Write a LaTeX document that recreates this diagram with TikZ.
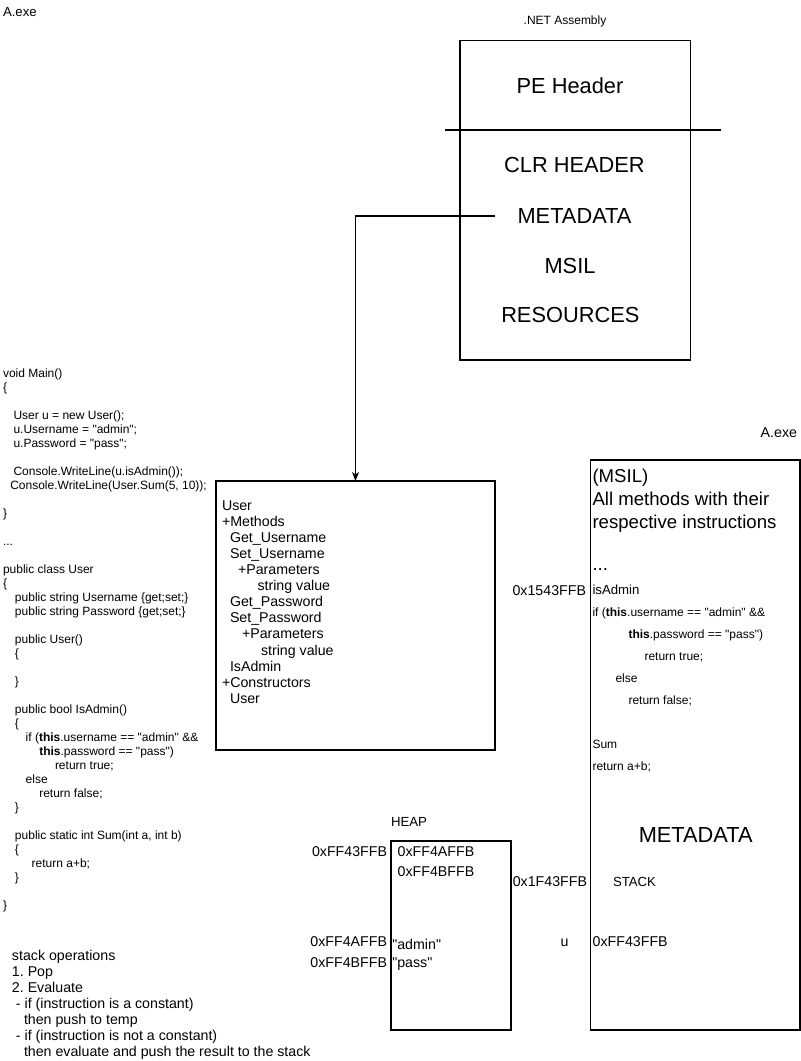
\documentclass[tikz,border=0pt]{standalone}
\usepackage{fontspec}
\setmainfont{Liberation Sans}[Ligatures=TeXOff]
\usetikzlibrary{arrows.meta}
\frenchspacing
\begin{document}
\begin{tikzpicture}[x=1pt,y=-1pt,
  lbl/.style={inner sep=0pt, outer sep=0pt, anchor=base west},
  lble/.style={inner sep=0pt, outer sep=0pt, anchor=base east},
  lblc/.style={inner sep=0pt, outer sep=0pt, anchor=base},
  f12/.style={font=\fontsize{12}{14}\selectfont},
  f13/.style={font=\fontsize{13.2}{15}\selectfont},
  f14/.style={font=\fontsize{14.2}{16}\selectfont},
  f18/.style={font=\fontsize{18.6}{22}\selectfont},
  f22/.style={font=\fontsize{21.8}{26}\selectfont},
  box/.style={draw, line width=1.1pt, inner sep=0pt, outer sep=0pt, anchor=north west},
  conn/.style={line width=1.1pt, -{Stealth[length=9pt,width=7pt,inset=2.5pt]}}
]
\useasboundingbox (0,0) rectangle (801,1061);

% top-left label
\node[lbl,f13] (aexe1) at (3,16.7) {A.exe};

% .NET assembly
\node[lblc,f12] (asmtitle) at (565,24.3) {.NET Assembly};
\node[box, minimum width=230.5pt, minimum height=319.5pt] (asm) at (460,40.5) {};
\coordinate (sepL) at (445,130);
\coordinate (sepR) at (720.5,130);
\draw[line width=1.1pt] (sepL) -- (sepR);
\node[lblc,f22] (pe)   at (570,93.8)  {PE Header};
\node[lblc,f22] (clr)  at (574.5,172.1) {CLR HEADER};
\node[lblc,f22] (meta) at (574.5,223.8) {METADATA};
\node[lblc,f22] (msilt) at (570,273.5) {MSIL};
\node[lblc,f22] (res)  at (570.3,322.1) {RESOURCES};

% class box
\node[box, minimum width=279pt, minimum height=269pt] (classbox) at (216,481) {};
\coordinate (metaend) at (495,216);
\draw[conn] (metaend) -| (classbox.north);

\foreach \k/\x/\t in {0/222/{User}, 1/222/{+Methods}, 2/230/{Get\_Username}, 3/230/{Set\_Username},
  4/238/{+Parameters}, 5/257.5/{string value}, 6/230/{Get\_Password}, 7/230/{Set\_Password},
  8/242/{+Parameters}, 9/261/{string value}, 10/230/{IsAdmin}, 11/222/{+Constructors}, 12/230/{User}}
  \node[lbl,f14] (cls\k) at (\x, 510.1+16.1*\k) {\t};

% source code
\foreach \k/\dx/\t in {0/0/{void Main()}, 1/0/{\{},
  3/10.5/{User u = new User();}, 4/10.5/{u.Username = "admin";}, 5/10.5/{u.Password = "pass";},
  7/10.5/{Console.WriteLine(u.isAdmin());}, 8/7.3/{Console.WriteLine(User.Sum(5, 10));},
  10/0/{\}}, 12/0/{...}, 14/0/{public class User}, 15/0/{\{},
  16/12/{public string Username \{get;set;\}}, 17/12/{public string Password \{get;set;\}},
  19/12/{public User()}, 20/12/{\{}, 22/12/{\}},
  24/12/{public bool IsAdmin()}, 25/12/{\{},
  26/22.7/{if (\textbf{this}.username == "admin" \&\&}, 27/36.3/{\textbf{this}.password == "pass")},
  28/52/{return true;}, 29/22.7/{else}, 30/36.3/{return false;}, 31/12/{\}},
  33/12/{public static int Sum(int a, int b)}, 34/12/{\{}, 35/28.7/{return a+b;}, 36/12/{\}},
  38/0/{\}}}
  \node[lbl,f12] (code\k) at (3+\dx, 377.3+14*\k) {\t};

% stack operations
\foreach \k/\x/\t in {0/12/{stack operations}, 1/12/{1. Pop}, 2/12/{2. Evaluate},
  3/16/{- if (instruction is a constant)}, 4/24/{then push to temp},
  5/16/{- if (instruction is not a constant)}, 6/24/{then evaluate and push the result to the stack}}
  \node[lbl,f14] (ops\k) at (\x, 960.1+16.1*\k) {\t};

% MSIL / memory box
\node[lble,f14] (aexe2) at (797,437.1) {A.exe};
\node[box, minimum width=209.5pt, minimum height=570pt] (membox) at (590.5,460) {};
\node[lbl,f18] (m1) at (592.5,482.7) {(MSIL)};
\node[lbl,f18] (m2) at (592.5,505.7) {All methods with their};
\node[lbl,f18] (m3) at (592.5,528.7) {respective instructions};
\node[lbl,f18] (m4) at (592.5,570) {...};
\node[lbl,f13] (m5) at (592.5,594.7) {isAdmin};
\node[lble,f14] (a1) at (586,595.1) {0x1543FFB};
\node[lbl,f12] (m6) at (592.5,616.3) {if (\textbf{this}.username == "admin" \&\&};
\node[lbl,f12] (m7) at (628.5,638.3) {\textbf{this}.password == "pass")};
\node[lbl,f12] (m8) at (644.5,660.3) {return true;};
\node[lbl,f12] (m9) at (615.5,682.3) {else};
\node[lbl,f12] (m10) at (628.5,704.3) {return false;};
\node[lbl,f12] (m11) at (592.5,748.3) {Sum};
\node[lbl,f12] (m12) at (592.5,770.3) {return a+b;};
\node[lblc,f22] (meta2) at (695.7,842.8) {METADATA};
\node[lble,f14] (a2) at (587,886.8) {0x1F43FFB};
\node[lbl,f13] (stk) at (613,886.8) {STACK};
\node[lblc,f14] (uvar) at (564.5,946.8) {u};
\node[lbl,f14] (a3) at (592.7,946.8) {0xFF43FFB};

% heap
\node[lbl,f13] (heapt) at (391,826.8) {HEAP};
\node[box, minimum width=120pt, minimum height=189pt] (heap) at (391,841) {};
\node[lble,f14] (h1) at (387,856.8) {0xFF43FFB};
\node[lbl,f14] (h2) at (397.7,856.8) {0xFF4AFFB};
\node[lbl,f14] (h3) at (397.7,876.1) {0xFF4BFFB};
\node[lble,f14] (h4) at (387,946.8) {0xFF4AFFB};
\node[lbl,f14] (h5) at (392.3,949) {"admin"};
\node[lble,f14] (h6) at (387,967.8) {0xFF4BFFB};
\node[lbl,f14] (h7) at (392.3,967.8) {"pass"};
\end{tikzpicture}
\end{document}
